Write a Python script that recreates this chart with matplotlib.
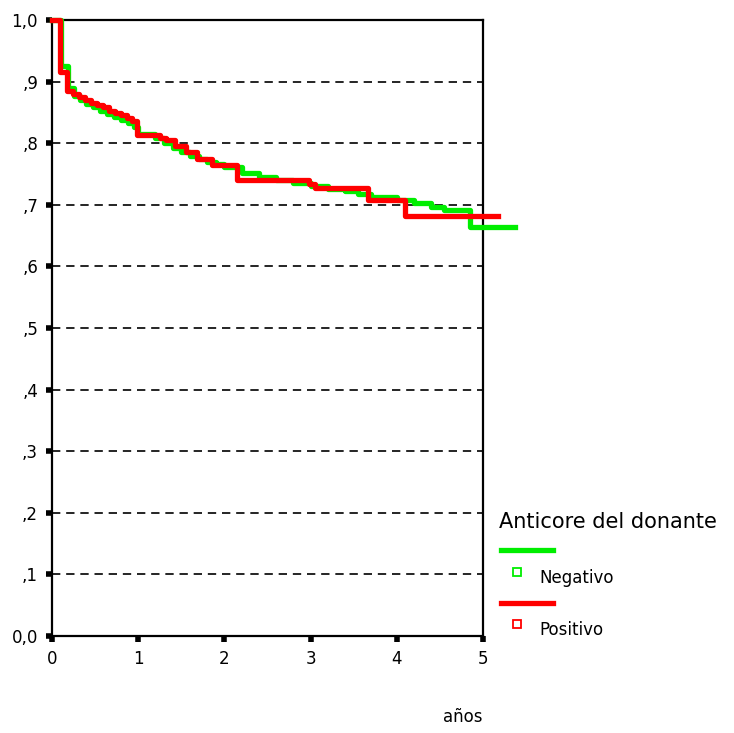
import matplotlib
matplotlib.use('Agg')
import matplotlib.pyplot as plt
from matplotlib.lines import Line2D

# ===== DATA (Kaplan-Meier steps) =====
t_neg = [0, 0.10, 0.18, 0.25, 0.32, 0.40, 0.48, 0.56, 0.64, 0.72, 0.80, 0.88,
         0.95, 1.00, 1.20, 1.30, 1.40, 1.50, 1.60, 1.70, 1.80, 1.90, 2.00,
         2.20, 2.40, 2.60, 2.80, 3.00, 3.20, 3.40, 3.55, 3.70, 4.00, 4.20,
         4.40, 4.55, 4.85, 5.37]
s_neg = [1.0, 0.925, 0.890, 0.877, 0.870, 0.864, 0.858, 0.853, 0.848, 0.843,
         0.838, 0.832, 0.826, 0.815, 0.808, 0.800, 0.792, 0.786, 0.780, 0.775,
         0.770, 0.766, 0.762, 0.752, 0.745, 0.740, 0.736, 0.731, 0.726, 0.722,
         0.718, 0.713, 0.707, 0.703, 0.697, 0.692, 0.664, 0.664]

t_pos = [0, 0.09, 0.17, 0.24, 0.31, 0.38, 0.45, 0.52, 0.59, 0.66, 0.73, 0.80,
         0.87, 0.93, 0.99, 1.25, 1.32, 1.43, 1.55, 1.68, 1.86, 2.15, 2.98,
         3.05, 3.67, 4.10, 5.17]
s_pos = [1.0, 0.915, 0.885, 0.880, 0.875, 0.870, 0.866, 0.862, 0.858, 0.853,
         0.849, 0.845, 0.841, 0.836, 0.813, 0.808, 0.805, 0.795, 0.786, 0.775,
         0.765, 0.740, 0.733, 0.727, 0.708, 0.682, 0.682]

x_ticks = [0, 1, 2, 3, 4, 5]
y_ticks = [0.0, 0.1, 0.2, 0.3, 0.4, 0.5, 0.6, 0.7, 0.8, 0.9, 1.0]
y_labels = ['0,0', ',1', ',2', ',3', ',4', ',5', ',6', ',7', ',8', ',9', '1,0']

legend_title = 'Anticore del donante'
groups = ['Negativo', 'Positivo']
colors = ['#00ee00', '#ff0000']

# ===== PLOT =====
fig = plt.figure(figsize=(7.34, 7.33), dpi=100)
ax = fig.add_axes([52 / 734, 97 / 733, 431 / 734, 616 / 733])

for y in y_ticks[1:-1]:
    ax.axhline(y, color='black', lw=1.2, ls=(0, (5, 3.5)), zorder=1)

ax.step(t_neg, s_neg, where='post', color=colors[0], lw=3.8,
        clip_on=False, zorder=3)
ax.step(t_pos, s_pos, where='post', color=colors[1], lw=3.8,
        clip_on=False, zorder=4)

ax.set_xlim(0, 5)
ax.set_ylim(0, 1)
ax.set_xticks(x_ticks)
ax.set_xticklabels([str(v) for v in x_ticks])
ax.set_yticks(y_ticks)
ax.set_yticklabels(y_labels)
ax.tick_params(direction='out', length=4, width=4, labelsize=12, pad=6)

for sp in ax.spines.values():
    sp.set_linewidth(1.6)

fig.text(483 / 734, 1 - 717 / 733, 'años', ha='right', va='center', fontsize=12)

# legend drawn by hand
fig.text(499 / 734, 1 - 522 / 733, legend_title, ha='left', va='center',
         fontsize=15)
rows = [(550, 574), (603, 626)]
for (ly, ty), c, g in zip(rows, colors, groups):
    fig.add_artist(Line2D([501 / 734, 553 / 734], [1 - ly / 733, 1 - ly / 733],
                          color=c, lw=3.8, transform=fig.transFigure))
    fig.add_artist(Line2D([517 / 734], [1 - (ty - 2) / 733], marker='s',
                          markersize=6, markerfacecolor='white',
                          markeredgecolor=c, markeredgewidth=1.3,
                          transform=fig.transFigure))
    fig.text(539 / 734, 1 - (ty + 4) / 733, g, ha='left', va='center',
             fontsize=12)

plt.savefig('out.png', dpi=100)
plt.close()
